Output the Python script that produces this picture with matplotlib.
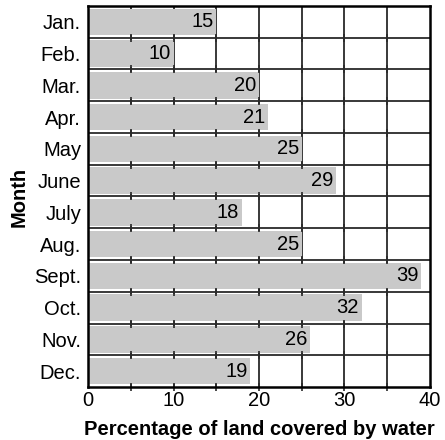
import matplotlib
matplotlib.use("Agg")
import matplotlib.pyplot as plt
import numpy as np

months = ["Jan.", "Feb.", "Mar.", "Apr.", "May", "June", "July",
          "Aug.", "Sept.", "Oct.", "Nov.", "Dec."]
water_pct = [15, 10, 20, 21, 25, 29, 18, 25, 39, 32, 26, 19]
x_ticks = [0, 10, 20, 30, 40]

plt.rcParams["font.family"] = ["Liberation Sans", "DejaVu Sans"]

fig = plt.figure(figsize=(4.45, 4.40), dpi=100)
ax = fig.add_axes([88 / 445, 1 - 387 / 440, 342 / 445, 381 / 440])

n = len(months)
ypos = np.arange(n)
ax.set_xlim(0, 40)
ax.set_ylim(n - 0.5, -0.5)

# vertical grid behind the bars
for gx in range(5, 40, 5):
    ax.axvline(gx, color="#2a2a2a", lw=1.3, zorder=1)

ax.barh(ypos, water_pct, height=0.83, color="#c9c9c9", zorder=2)

# row separators with short tick marks at each grid step
for sy in np.arange(0.5, n - 0.5, 1.0):
    ax.axhline(sy, color="#2a2a2a", lw=1.3, zorder=3)
    ax.plot(np.arange(5, 40, 5), [sy] * 7, ls="none", marker="|",
            markersize=6, mew=1.2, color="#2a2a2a", zorder=3)

# short inward ticks along the bottom edge
ax.plot(np.arange(5, 40, 5), [n - 0.5] * 7, ls="none", marker="|",
        markersize=6, mew=1.2, color="#2a2a2a", zorder=3, clip_on=False)

for y, v in zip(ypos, water_pct):
    ax.annotate(str(v), xy=(v, y), xytext=(-2, 0), textcoords="offset points",
                ha="right", va="center", fontsize=14.5, zorder=4)

for s in ax.spines.values():
    s.set_linewidth(1.8)
    s.set_color("black")
    s.set_zorder(5)

ax.set_yticks(ypos)
ax.set_yticklabels(months, fontsize=14.5)
ax.set_xticks(x_ticks)
ax.set_xticklabels([str(t) for t in x_ticks], fontsize=14.5)
ax.tick_params(axis="both", length=0, pad=5)
ax.tick_params(axis="x", pad=3)

ax.set_xlabel("Percentage of land covered by water", fontsize=14.5,
              fontweight="bold", labelpad=7)
ax.set_ylabel("Month", fontsize=14.5, fontweight="bold", labelpad=4)

fig.savefig("out.png", dpi=100)
